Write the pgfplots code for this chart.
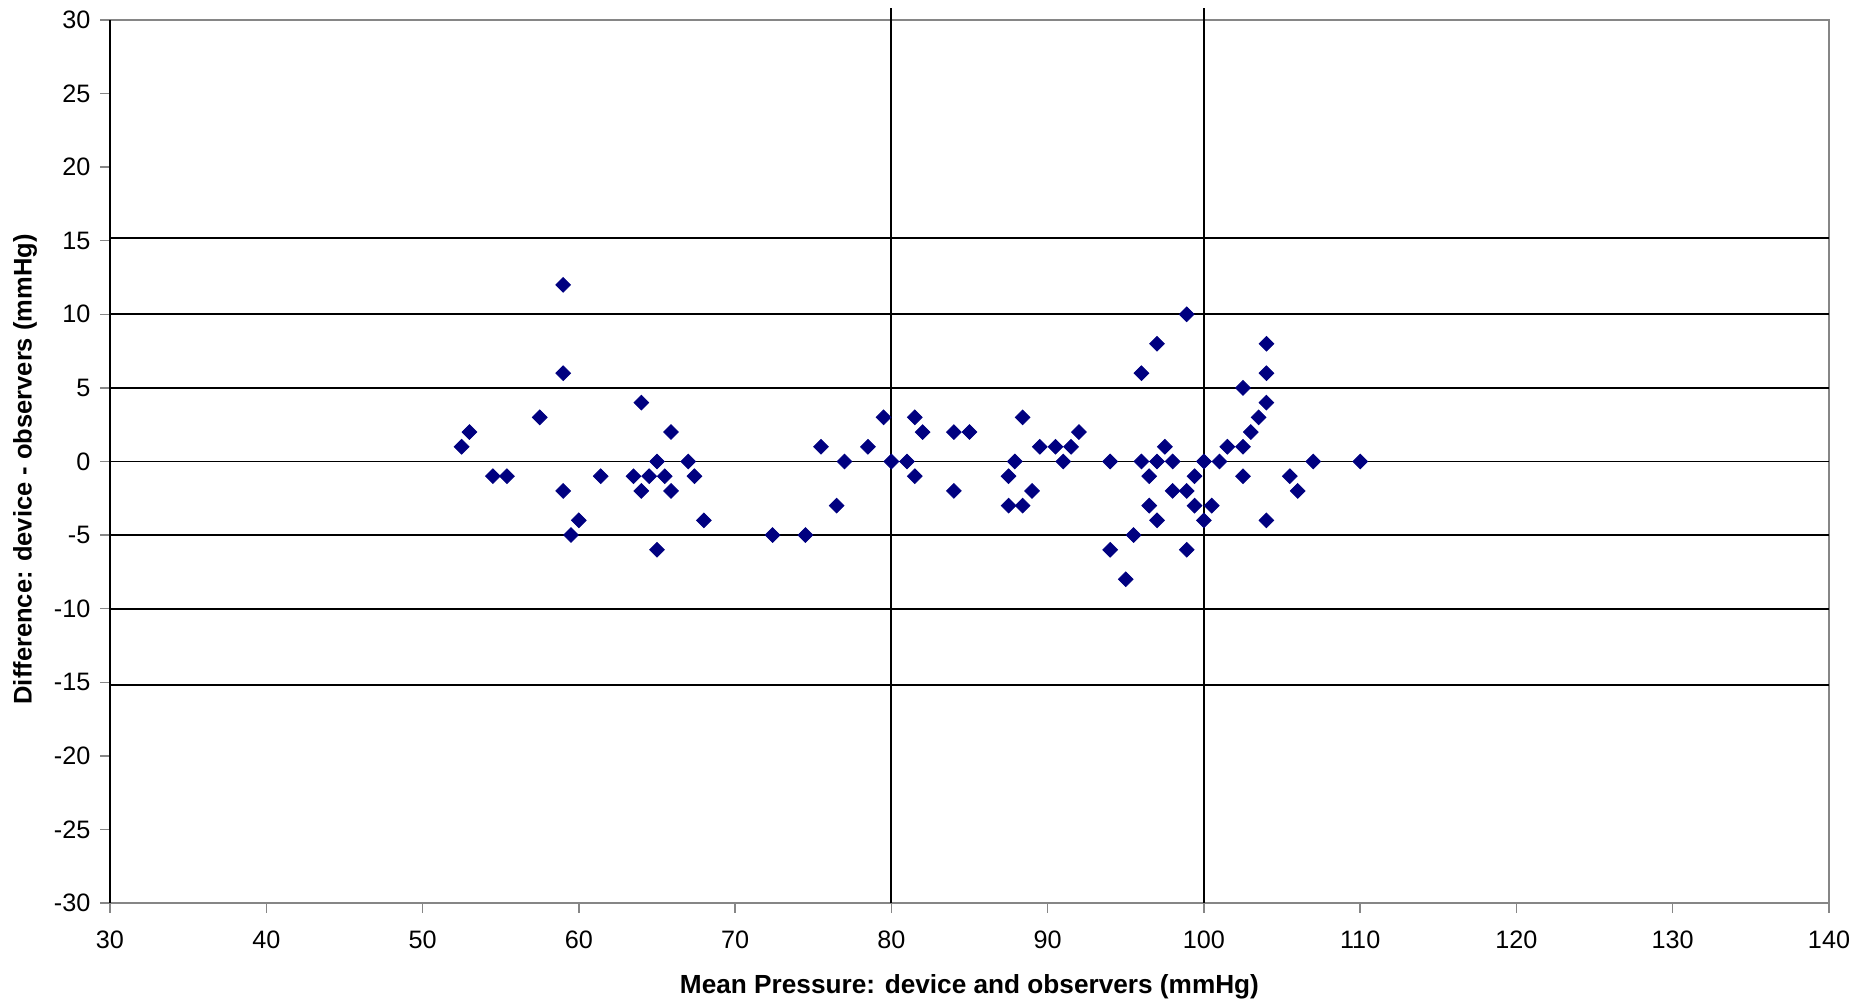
\documentclass[border=0pt]{standalone}
\usepackage{pgfplots}
\pgfplotsset{compat=1.18}
\usepackage{fontspec}
\setmainfont{Liberation Sans}
\definecolor{navymark}{RGB}{0,0,128}
\definecolor{boxgray}{RGB}{134,134,134}

\begin{document}
\begin{tikzpicture}
\begin{axis}[
    scale only axis,
    width=859.5pt, height=441.5pt,
    xmin=30, xmax=140, ymin=-30, ymax=30,
    xtick={30,40,...,140}, ytick={-30,-25,...,30},
    tick align=outside, major tick length=5pt,
    tick style={boxgray, line width=0.7pt},
    xtick pos=bottom, ytick pos=left,
    axis line style={boxgray, line width=0.7pt},
    /pgf/number format/assume math mode=true,
    ticklabel style={font=\fontsize{12.6}{15}\selectfont},
    yticklabel style={xshift=-1.3pt},
    xticklabel style={yshift=-5.5pt},
    xlabel={Mean Pressure: device and observers (mmHg)},
    ylabel={Difference: device - observers (mmHg)},
    xlabel style={font=\fontsize{13.1}{15}\selectfont\bfseries,
        at={(axis description cs:0.5,-0.0951)}, anchor=center},
    ylabel style={font=\fontsize{12.75}{15}\selectfont\bfseries,
        at={(axis description cs:-0.0494,0.491)}, anchor=center},
    clip=false,
]
% reference lines
\addplot[black, line width=0.9pt] coordinates {(30,15.2) (140,15.2)};
\addplot[black, line width=0.9pt] coordinates {(30,10) (140,10)};
\addplot[black, line width=0.9pt] coordinates {(30,5) (140,5)};
\addplot[black, line width=0.9pt] coordinates {(30,0) (140,0)};
\addplot[black, line width=0.9pt] coordinates {(30,-5) (140,-5)};
\addplot[black, line width=0.9pt] coordinates {(30,-10) (140,-10)};
\addplot[black, line width=0.9pt] coordinates {(30,-15.2) (140,-15.2)};
\addplot[black, line width=0.9pt] coordinates {(80,-30) (80,30.8)};
\addplot[black, line width=0.9pt] coordinates {(100,-30) (100,30.8)};
% left axis line
\addplot[black, line width=0.7pt] coordinates {(30,-30) (30,30)};
% data
\addplot[only marks, mark=square*, mark size=2.6pt,
    mark options={rotate=45, fill=navymark, draw=navymark}] coordinates {
(52.5,1)(53,2)(54.5,-1)(55.4,-1)(57.5,3)(59,12)(59,6)(59,-2)(59.5,-5)(60,-4)
(61.4,-1)(63.5,-1)(64,4)(64,-2)(64.5,-1)(65,0)(65,-6)(65.5,-1)(65.9,2)(65.9,-2)
(67,0)(67.4,-1)(68,-4)
(72.4,-5)(74.5,-5)(75.5,1)(76.5,-3)(77,0)(78.5,1)(79.5,3)(80,0)(81,0)(81.5,3)
(81.5,-1)(82,2)(84,2)(84,-2)(85,2)(87.5,-1)(87.5,-3)(87.9,0)(88.4,3)(88.4,-3)
(89,-2)(89.5,1)(90.5,1)(91,0)(91.5,1)(92,2)
(94,0)(94,-6)(95,-8)(95.5,-5)(96,6)(96,0)(96.5,-1)(96.5,-3)(97,8)(97,0)
(97,-4)(97.5,1)(98,0)(98,-2)(98.9,10)(98.9,-2)(98.9,-6)(99.4,-1)(99.4,-3)(100,0)
(100,-4)(100.5,-3)(101,0)(101.5,1)(102.5,5)(102.5,1)(102.5,-1)(103,2)(103.5,3)
(104,8)(104,6)(104,4)(104,-4)(105.5,-1)(106,-2)(107,0)(110,0)
};
\end{axis}
\pgfresetboundingbox
\useasboundingbox ([shift={(-55pt,-52pt)}]current axis.south west)
    rectangle ([shift={(23pt,10pt)}]current axis.north east);
\end{tikzpicture}
\end{document}
